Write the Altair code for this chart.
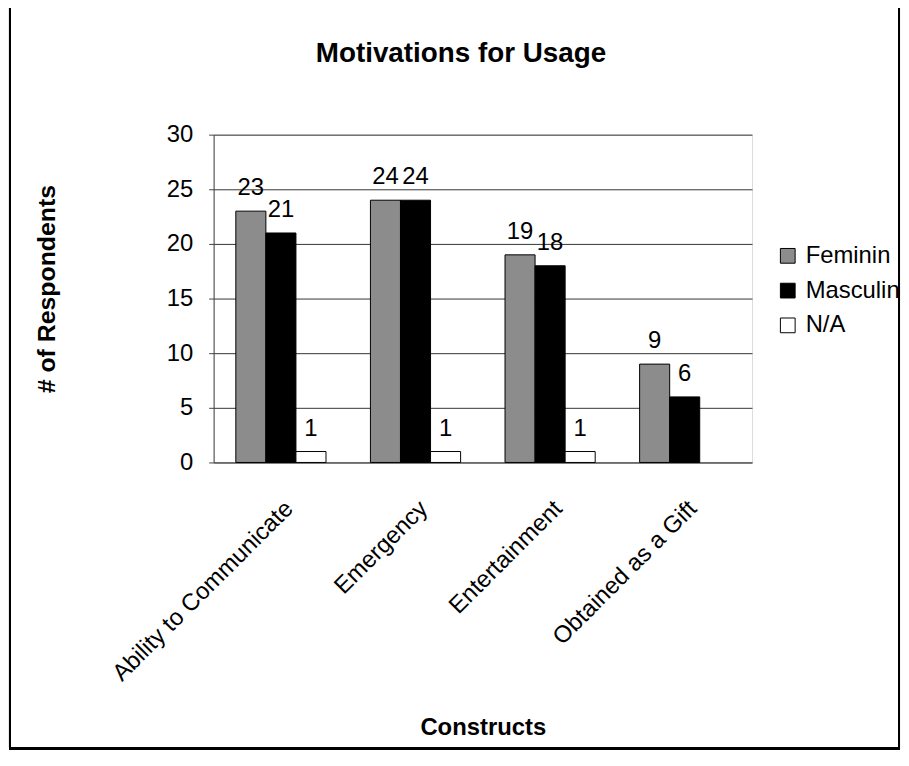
import altair as alt
import pandas as pd

categories = ["Ability to Communicate", "Emergency", "Entertainment", "Obtained as a Gift"]
series = ["Feminin", "Masculin", "N/A"]
feminin = [23, 24, 19, 9]
masculin = [21, 24, 18, 6]
na = [1, 1, 1, None]
y_ticks = [0, 5, 10, 15, 20, 25, 30]
chart_title = "Motivations for Usage"

rows = []
for i, c in enumerate(categories):
    for s, vals in zip(series, [feminin, masculin, na]):
        if vals[i] is not None:
            rows.append({"Construct": c, "Gender": s, "Count": vals[i]})
df = pd.DataFrame(rows)

W, H = 542, 330
FONT = "Liberation Sans"

x = alt.X("Construct:N", sort=categories,
          scale=alt.Scale(paddingInner=0.33, paddingOuter=0.165),
          axis=alt.Axis(title="Constructs", labelAngle=-45, labelFontSize=24,
                        labelFont=FONT, labelColor="black", ticks=False, labelLimit=0,
                        domainColor="#555", labelPadding=34,
                        titleFontSize=24, titleFont=FONT, titleFontWeight="bold",
                        titleColor="black", titleBaseline="alphabetic", titleY=274))
xo = alt.XOffset("Gender:N", sort=series, scale=alt.Scale(domain=series, paddingInner=0, paddingOuter=0))
y = alt.Y("Count:Q", scale=alt.Scale(domain=[0, 30]),
          axis=alt.Axis(title="# of Respondents", values=y_ticks, labelFontSize=24,
                        labelFont=FONT, labelColor="black", tickSize=5, tickColor="#444",
                        labelPadding=16, domainColor="#444",
                        grid=True, gridColor="#111", gridWidth=1, gridOpacity=0.85,
                        titleFontSize=25, titleFont=FONT, titleFontWeight="bold",
                        titleColor="black", titleX=-155, titleY=155))
color = alt.Color("Gender:N", sort=series,
                  scale=alt.Scale(domain=series, range=["#8c8c8c", "#000000", "#ffffff"]),
                  legend=alt.Legend(title=None, orient="none", legendX=566, legendY=110,
                                    labelFontSize=24, labelFont=FONT, labelColor="black",
                                    symbolType="square", symbolSize=220,
                                    symbolStrokeColor="black", symbolStrokeWidth=1,
                                    symbolOpacity=1, rowPadding=11, labelOffset=6))

bars = alt.Chart(df).mark_bar(stroke="black", strokeWidth=1, opacity=1).encode(
    x=x, xOffset=xo, y=y, color=color)

labels = alt.Chart(df).mark_text(baseline="alphabetic", dy=-16, fontSize=24,
                                 font=FONT, color="black").encode(
    x=alt.X("Construct:N", sort=categories), xOffset=alt.XOffset("Gender:N", sort=series),
    y="Count:Q", text="Count:Q")

frame = alt.Chart(df).mark_rect(fill=None, stroke="black", strokeWidth=2, clip=False).encode(
    x=alt.value(-205), x2=alt.value(W + 148), y=alt.value(-129), y2=alt.value(H + 288))

title = alt.Chart(pd.DataFrame({"t": [chart_title]})).mark_text(
    fontSize=28, font=FONT, fontWeight="bold", color="black",
    baseline="alphabetic", align="center", clip=False).encode(
    x=alt.value(249), y=alt.value(-73), text="t:N")

chart = alt.layer(frame, bars, labels, title).properties(
    width=W, height=H,
    autosize=alt.AutoSizeParams(type="none"),
    padding={"left": 207, "top": 125, "right": 150, "bottom": 292},
).configure_view(fill="#bcbcbc", stroke=None).configure(background="white")

chart.save("out.html", embed_options={"renderer": "svg", "actions": False})
